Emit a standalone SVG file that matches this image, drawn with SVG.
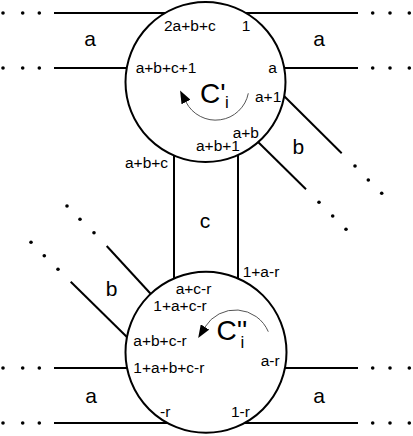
<svg xmlns="http://www.w3.org/2000/svg" width="413" height="436" viewBox="0 0 413 436">
<style>
.ln{stroke:#000;stroke-width:2;fill:none}
.node{stroke:#000;stroke-width:2;fill:#fff}
.dot{fill:#000}
.arc{stroke:#555;stroke-width:1;fill:none}
text{font-family:"Liberation Sans",Arial,sans-serif;fill:#000}
.s{font-size:15.5px}
.m{font-size:21px;text-anchor:middle}
.big{font-size:28px}
.sub{font-size:17px}
</style>
<defs>
<marker id="ah" markerUnits="userSpaceOnUse" markerWidth="14" markerHeight="10" refX="0" refY="5" orient="auto">
<path d="M0,0 L13,5 L0,10 z" fill="#000"/>
</marker>
</defs>
<g id="connectors">
<line class="ln" x1="54" y1="13" x2="358" y2="13"/>
<line class="ln" x1="54" y1="68" x2="358" y2="68"/>
<line class="ln" x1="54" y1="368" x2="358" y2="368"/>
<line class="ln" x1="54" y1="423" x2="358" y2="423"/>
<line class="ln" x1="174" y1="140" x2="174" y2="290"/>
<line class="ln" x1="238" y1="140" x2="238" y2="290"/>
<line class="ln" x1="280" y1="92" x2="341.7" y2="153.3"/>
<line class="ln" x1="254" y1="138" x2="306" y2="189.3"/>
<line class="ln" x1="106.7" y1="246" x2="155" y2="298.5"/>
<line class="ln" x1="70.7" y1="281.7" x2="132" y2="342"/>
<g class="dot">
<circle cx="3" cy="13" r="1.8"/><circle cx="22.7" cy="13" r="1.8"/><circle cx="39.3" cy="13" r="1.8"/>
<circle cx="3" cy="68" r="1.8"/><circle cx="22.7" cy="68" r="1.8"/><circle cx="39.3" cy="68" r="1.8"/>
<circle cx="3" cy="368" r="1.8"/><circle cx="22.7" cy="368" r="1.8"/><circle cx="39.3" cy="368" r="1.8"/>
<circle cx="3" cy="423" r="1.8"/><circle cx="22.7" cy="423" r="1.8"/><circle cx="39.3" cy="423" r="1.8"/>
<circle cx="372.7" cy="13" r="1.8"/><circle cx="390" cy="13" r="1.8"/><circle cx="409.3" cy="13" r="1.8"/>
<circle cx="372.7" cy="68" r="1.8"/><circle cx="390" cy="68" r="1.8"/><circle cx="409.3" cy="68" r="1.8"/>
<circle cx="372.7" cy="368" r="1.8"/><circle cx="390" cy="368" r="1.8"/><circle cx="409.3" cy="368" r="1.8"/>
<circle cx="372.7" cy="423" r="1.8"/><circle cx="390" cy="423" r="1.8"/><circle cx="409.3" cy="423" r="1.8"/>
<circle cx="355" cy="166" r="1.8"/><circle cx="368.3" cy="180" r="1.8"/><circle cx="381.7" cy="193.3" r="1.8"/>
<circle cx="319" cy="202.3" r="1.8"/><circle cx="332.7" cy="216" r="1.8"/><circle cx="346" cy="229.3" r="1.8"/>
<circle cx="67" cy="206" r="1.8"/><circle cx="80" cy="219.3" r="1.8"/><circle cx="94" cy="232.7" r="1.8"/>
<circle cx="31" cy="242.3" r="1.8"/><circle cx="44.3" cy="255.7" r="1.8"/><circle cx="58" cy="269.3" r="1.8"/>
</g>
<text class="m" x="90" y="46">a</text>
<text class="m" x="319" y="46">a</text>
<text class="m" x="91" y="403">a</text>
<text class="m" x="319" y="403">a</text>
<text class="m" x="298.3" y="154">b</text>
<text class="m" x="111.7" y="296">b</text>
<text class="m" x="205" y="228">c</text>
</g>
<g id="node-top">
<circle class="node" cx="205.5" cy="82" r="80"/>
<text class="s" x="164" y="31">2a+b+c</text>
<text class="s" x="241.7" y="31">1</text>
<text class="s" x="135.7" y="73">a+b+c+1</text>
<text class="s" x="268.3" y="73">a</text>
<text class="s" x="255" y="101.7">a+1</text>
<text class="s" x="232.7" y="138.3">a+b</text>
<text class="s" x="196" y="151">a+b+1</text>
<text class="s" x="125" y="168.3">a+b+c</text>
<text class="big" x="200" y="103.3">C'</text>
<text class="sub" x="225" y="107.5">i</text>
<path class="arc" d="M248.3,93.3 A33.3,33.3 0 0 1 186,102" marker-end="url(#ah)"/>
</g>
<g id="node-bottom">
<circle class="node" cx="206" cy="352.3" r="80.5"/>
<text class="s" x="242.7" y="277.3">1+a-r</text>
<text class="s" x="175.7" y="294.3">a+c-r</text>
<text class="s" x="153.3" y="310.7">1+a+c-r</text>
<text class="s" x="133.3" y="346">a+b+c-r</text>
<text class="s" x="133.3" y="373">1+a+b+c-r</text>
<text class="s" x="260.7" y="366">a-r</text>
<text class="s" x="160" y="417">-r</text>
<text class="s" x="231" y="417">1-r</text>
<text class="big" x="216.5" y="340">C''</text>
<text class="sub" x="240.5" y="348">i</text>
<path class="arc" d="M268.3,331.7 A35.7,35.7 0 0 0 205,327" marker-end="url(#ah)"/>
</g>
</svg>
